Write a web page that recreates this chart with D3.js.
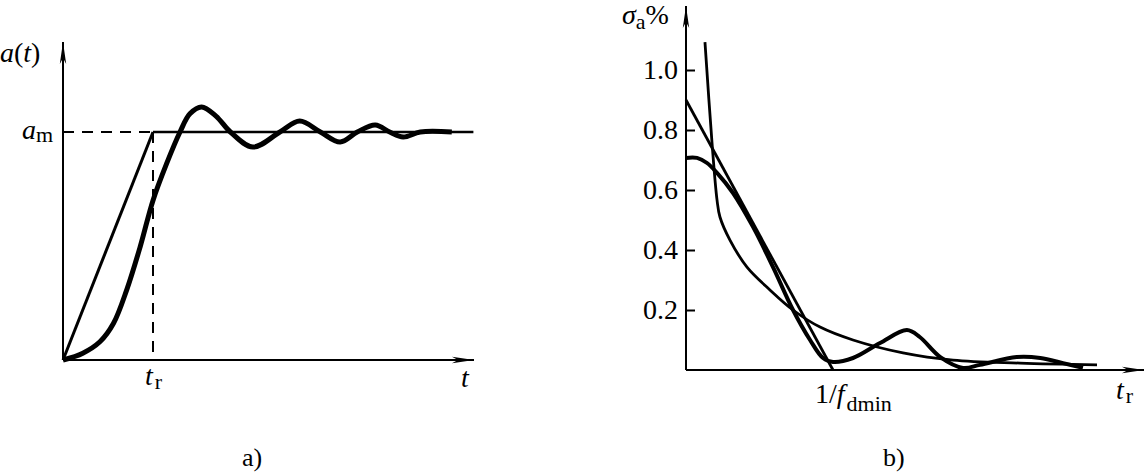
<!DOCTYPE html>
<html><head><meta charset="utf-8">
<script src="https://cdn.jsdelivr.net/npm/d3@7"></script>
<style>
body{margin:0;background:#fff;}
svg{display:block;}
svg text{font-family:"Liberation Serif","Times New Roman",Times,serif !important;fill:#000;}
</style></head>
<body>
<script>
// ---------- data ----------
// Left (a): time in units of t_r, amplitude in units of a_m
const rampT = [0, 1];
const rampA = [0, 1];
const steadyT = [1, 4.56];
const steadyA = [1, 1];
const respT = [0, 0.22, 0.41, 0.56, 0.71, 0.86, 1.0, 1.15, 1.3, 1.41, 1.54, 1.7, 1.86, 2.11, 2.41, 2.63, 2.86, 3.08, 3.27, 3.47, 3.63, 3.78, 3.97, 4.32];
const respA = [0, 0.03, 0.08, 0.16, 0.31, 0.50, 0.70, 0.86, 1.0, 1.08, 1.11, 1.07, 1.0, 0.934, 1.0, 1.048, 1.0, 0.956, 1.0, 1.031, 1.0, 0.978, 1.0, 1.0];

// Right (b): rise time in units of 1/f_dmin, sigma_a %
const sigmaTicks = [0.2, 0.4, 0.6, 0.8, 1.0];
const hypX = [0.129, 0.177, 0.211, 0.231, 0.299, 0.415, 0.571, 0.728, 0.912, 1.136, 1.476, 1.816, 2.272, 2.796];
const hypY = [1.093, 0.757, 0.567, 0.51, 0.433, 0.343, 0.267, 0.2, 0.143, 0.1, 0.057, 0.033, 0.023, 0.017];
const linX = [0, 1.0];
const linY = [0.9, 0.0];
const oscX = [0, 0.075, 0.143, 0.211, 0.32, 0.456, 0.592, 0.728, 0.844, 0.932, 1.0, 1.136, 1.32, 1.503, 1.59, 1.73, 1.884, 2.0, 2.25, 2.41, 2.565, 2.70];
const oscY = [0.707, 0.707, 0.69, 0.657, 0.59, 0.477, 0.343, 0.2, 0.1, 0.04, 0.027, 0.04, 0.09, 0.133, 0.11, 0.043, 0.007, 0.017, 0.043, 0.04, 0.023, 0.007];

// ---------- drawing ----------
const W = 1145, H = 473;
const FONT = '"Liberation Serif","Times New Roman",Times,serif';
const svg = d3.select("body").append("svg").attr("width", W).attr("height", H);

const defs = svg.append("defs");
defs.append("marker").attr("id", "arr").attr("viewBox", "0 0 22 10")
  .attr("refX", 22).attr("refY", 5).attr("markerWidth", 22).attr("markerHeight", 10)
  .attr("markerUnits", "userSpaceOnUse").attr("orient", "auto")
  .append("path").attr("d", "M0,1.8 L22,5 L0,8.2 L6,5 Z").attr("fill", "#000");

function pts(xs, ys) { return xs.map((x, i) => [x, ys[i]]); }
function txt(g, x, y, size) {
  return g.append("text").attr("x", x).attr("y", y)
    .style("font-family", FONT).style("font-size", size + "px");
}

// ----- chart a -----
const xL = d3.scaleLinear().domain([0, 1]).range([63, 153]);
const yL = d3.scaleLinear().domain([0, 1]).range([360, 132]);
const gA = svg.append("g");
gA.append("line").attr("x1", xL(0)).attr("y1", yL(0)).attr("x2", 474).attr("y2", yL(0))
  .attr("stroke", "#000").attr("stroke-width", 2).attr("marker-end", "url(#arr)");
gA.append("line").attr("x1", xL(0)).attr("y1", yL(0)).attr("x2", xL(0)).attr("y2", 42)
  .attr("stroke", "#000").attr("stroke-width", 2).attr("marker-end", "url(#arr)");
gA.append("line").attr("x1", xL(0)).attr("y1", yL(1)).attr("x2", xL(1)).attr("y2", yL(1))
  .attr("stroke", "#000").attr("stroke-width", 2).attr("stroke-dasharray", "11,8");
gA.append("line").attr("x1", xL(1)).attr("y1", yL(1)).attr("x2", xL(1)).attr("y2", yL(0))
  .attr("stroke", "#000").attr("stroke-width", 2).attr("stroke-dasharray", "11,8");
const lineL = d3.line().x(d => xL(d[0])).y(d => yL(d[1]));
gA.append("path").attr("d", lineL(pts(rampT, rampA))).attr("fill", "none").attr("stroke", "#000").attr("stroke-width", 3);
gA.append("path").attr("d", lineL(pts(steadyT, steadyA))).attr("fill", "none").attr("stroke", "#000").attr("stroke-width", 2.6);
gA.append("path").attr("d", d3.line().x(d => xL(d[0])).y(d => yL(d[1])).curve(d3.curveCatmullRom.alpha(0.5))(pts(respT, respA)))
  .attr("fill", "none").attr("stroke", "#000").attr("stroke-width", 5).attr("stroke-linejoin", "round");
// labels
const la = txt(gA, 0, 62, 28);
la.append("tspan").style("font-style", "italic").text("a");
la.append("tspan").text("(");
la.append("tspan").style("font-style", "italic").text("t");
la.append("tspan").text(")");
const lam = txt(gA, 22, 139, 28);
lam.append("tspan").style("font-style", "italic").text("a");
lam.append("tspan").style("font-size", "22px").attr("dy", 3).text("m");
const ltr = txt(gA, 145, 385, 28);
ltr.append("tspan").style("font-style", "italic").text("t");
ltr.append("tspan").style("font-size", "22px").attr("dy", 4).attr("dx", 2).text("r");
txt(gA, 461, 387, 28).style("font-style", "italic").text("t");
txt(gA, 242, 466, 26).text("a)");

// ----- chart b -----
const xR = d3.scaleLinear().domain([0, 1]).range([686, 833]);
const yR = d3.scaleLinear().domain([0, 1]).range([370, 70]);
const gB = svg.append("g");
gB.append("line").attr("x1", xR(0)).attr("y1", yR(0)).attr("x2", 1144).attr("y2", yR(0))
  .attr("stroke", "#000").attr("stroke-width", 2).attr("marker-end", "url(#arr)");
gB.append("line").attr("x1", xR(0)).attr("y1", yR(0)).attr("x2", xR(0)).attr("y2", 6)
  .attr("stroke", "#000").attr("stroke-width", 2).attr("marker-end", "url(#arr)");
const ax = gB.append("g").attr("transform", `translate(${xR(0)},0)`)
  .call(d3.axisLeft(yR).tickValues(sigmaTicks).tickFormat(d3.format(".1f"))
    .tickSizeInner(-9).tickSizeOuter(0).tickPadding(8));
ax.select(".domain").remove();
ax.selectAll("line").attr("stroke", "#000").attr("stroke-width", 2);
ax.selectAll("text").style("font-size", "28px").style("font-family", FONT).attr("fill", "#000");

gB.append("path").attr("d", d3.line().x(d => xR(d[0])).y(d => yR(d[1]))(pts(linX, linY)))
  .attr("fill", "none").attr("stroke", "#000").attr("stroke-width", 2.8);
gB.append("path").attr("d", d3.line().x(d => xR(d[0])).y(d => yR(d[1])).curve(d3.curveCatmullRom.alpha(0.5))(pts(hypX, hypY)))
  .attr("fill", "none").attr("stroke", "#000").attr("stroke-width", 2.8);
gB.append("path").attr("d", d3.line().x(d => xR(d[0])).y(d => yR(d[1])).curve(d3.curveCatmullRom.alpha(0.5))(pts(oscX, oscY)))
  .attr("fill", "none").attr("stroke", "#000").attr("stroke-width", 4).attr("stroke-linejoin", "round");

const ls = txt(gB, 622, 24, 28);
ls.append("tspan").style("font-style", "italic").text("σ");
ls.append("tspan").style("font-size", "22px").attr("dy", 5).text("a");
ls.append("tspan").attr("dy", -5).text("%");
const lf = txt(gB, 815, 403, 28);
lf.append("tspan").text("1/");
lf.append("tspan").style("font-style", "italic").text("f");
lf.append("tspan").style("font-size", "22px").attr("dy", 8).attr("dx", 2).text("dmin");
const ltr2 = txt(gB, 1116, 399, 28);
ltr2.append("tspan").style("font-style", "italic").text("t");
ltr2.append("tspan").style("font-size", "22px").attr("dy", 4).attr("dx", 2).text("r");
txt(gB, 883, 466, 26).text("b)");
</script>
</body></html>
